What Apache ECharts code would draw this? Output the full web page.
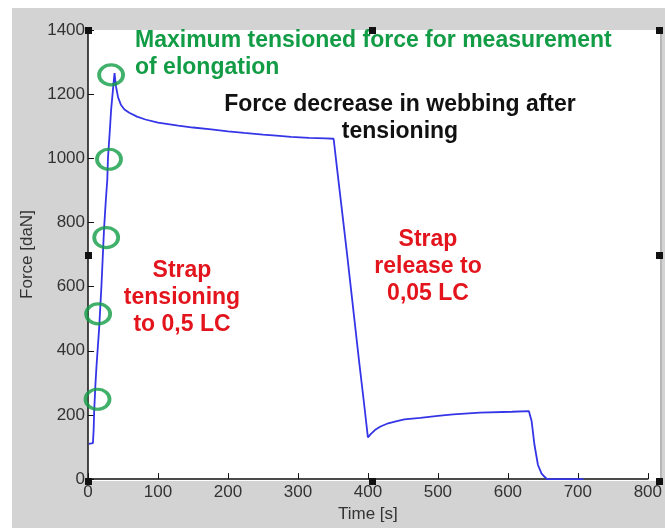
<!DOCTYPE html>
<html>
<head>
<meta charset="utf-8">
<script src="https://cdn.jsdelivr.net/npm/echarts@6/dist/echarts.min.js"></script>
<style>
  html, body { margin: 0; padding: 0; background: #fff; }
  #chart { width: 665px; height: 528px; }
</style>
</head>
<body>
<div id="chart"></div>
<script>
// measured force curve, time in s / force in daN
var timeSec = [1, 7, 8, 8.8, 10.5, 12.2, 14, 15.9, 19.2, 22.9, 25.5, 27.6, 28.5, 31, 33, 35.5, 37.9,
    40, 43, 47, 52, 59, 70, 82, 100, 129, 150, 176, 200, 223, 250, 269, 290, 316, 340, 351,
    356, 362, 370, 378, 387, 394, 400,
    404, 410, 418, 429, 440, 452, 475, 500, 522, 560, 606, 630,
    634, 638, 643, 648, 652, 656, 708];
var forceDaN = [110, 112, 150, 211, 290, 354, 410, 469, 602, 779, 870, 934, 1000, 1080, 1150, 1210, 1266,
    1224, 1190, 1167, 1152, 1142, 1130, 1121, 1111, 1102, 1096, 1090, 1084, 1079, 1074, 1071, 1067, 1064, 1062, 1061,
    966, 855, 705, 550, 375, 245, 130,
    140, 153, 164, 174, 180, 186, 191, 197, 202, 207, 210, 212,
    180, 107, 44, 18, 8, 0, 0];

// green circles marking the elongation measurement points
var circleTime = [13.6, 14.5, 26, 30, 33];
var circleForce = [249, 515, 753, 997, 1260];

var xTicks = { min: 0, max: 800, step: 100 };
var yTicks = { min: 0, max: 1400, step: 200 };

var chart = echarts.init(document.getElementById('chart'));

var green = '#129c45';
var red = '#e3141c';
var boldFont = 'bold 23px "Liberation Sans", Arial, sans-serif';

function pairs(xs, ys) {
    var out = [];
    for (var i = 0; i < xs.length; i++) {
        out.push([xs[i], ys[i]]);
    }
    return out;
}

function handle(x, y) {
    return {
        type: 'rect', z: 100,
        shape: { x: x - 3, y: y - 3, width: 7, height: 7 },
        style: { fill: '#111' }
    };
}

function label(text, x, y, color, align) {
    return {
        type: 'text', z: 50, x: x, y: y,
        style: {
            text: text, fill: color, font: boldFont,
            align: align, verticalAlign: 'middle', lineHeight: 27
        }
    };
}

var option = {
    animation: false,
    backgroundColor: '#fff',
    grid: { left: 88, right: 6, top: 30, bottom: 47 },
    xAxis: {
        type: 'value',
        min: xTicks.min, max: xTicks.max, interval: xTicks.step,
        name: 'Time [s]',
        nameLocation: 'middle',
        nameGap: 26,
        nameTextStyle: { color: '#333', fontSize: 17, fontFamily: 'Liberation Sans' },
        axisLine: { lineStyle: { color: '#111', width: 1.5 } },
        axisTick: { inside: true, length: 6, lineStyle: { color: '#111' } },
        axisLabel: { color: '#333', fontSize: 17, fontFamily: 'Liberation Sans', margin: 5 },
        splitLine: { show: false }
    },
    yAxis: {
        type: 'value',
        min: yTicks.min, max: yTicks.max, interval: yTicks.step,
        name: 'Force [daN]',
        nameLocation: 'middle',
        nameGap: 48,
        nameTextStyle: { color: '#333', fontSize: 17, fontFamily: 'Liberation Sans' },
        axisLine: { show: true, lineStyle: { color: '#111', width: 1.5 } },
        axisTick: { show: true, inside: true, length: 6, lineStyle: { color: '#111' } },
        axisLabel: {
            color: '#333', fontSize: 17, fontFamily: 'Liberation Sans', margin: 3,
            formatter: function (v) { return String(v); }
        },
        splitLine: { show: false }
    },
    series: [
        {
            name: 'Force',
            type: 'line',
            data: pairs(timeSec, forceDaN),
            showSymbol: false,
            lineStyle: { color: '#3535e8', width: 1.8 },
            z: 3
        },
        {
            name: 'Points',
            type: 'scatter',
            data: pairs(circleTime, circleForce),
            symbol: 'circle',
            symbolSize: [24, 20],
            itemStyle: { color: 'rgba(0,0,0,0)', borderColor: green, borderWidth: 3.5 },
            z: 4
        }
    ],
    graphic: [
        { type: 'rect', z: -2, shape: { x: 12, y: 8, width: 660, height: 530 }, style: { fill: '#d3d3d3' } },
        { type: 'rect', z: -1, shape: { x: 88, y: 30, width: 572, height: 451 }, style: { fill: '#fff' } },
        { type: 'line', z: 1, shape: { x1: 661, y1: 30, x2: 661, y2: 481 }, style: { stroke: '#999', lineWidth: 1 } },
        label('Maximum tensioned force for measurement\nof elongation', 135, 54, green, 'left'),
        label('Force decrease in webbing after\ntensioning', 400, 118, '#111', 'center'),
        label('Strap\ntensioning\nto 0,5 LC', 182, 298, red, 'center'),
        label('Strap\nrelease to\n0,05 LC', 428, 267, red, 'center'),
        handle(88, 30), handle(372, 30), handle(659, 30),
        handle(88, 255), handle(659, 255),
        handle(88, 481), handle(372, 481), handle(659, 481)
    ]
};

chart.setOption(option);
</script>
</body>
</html>
